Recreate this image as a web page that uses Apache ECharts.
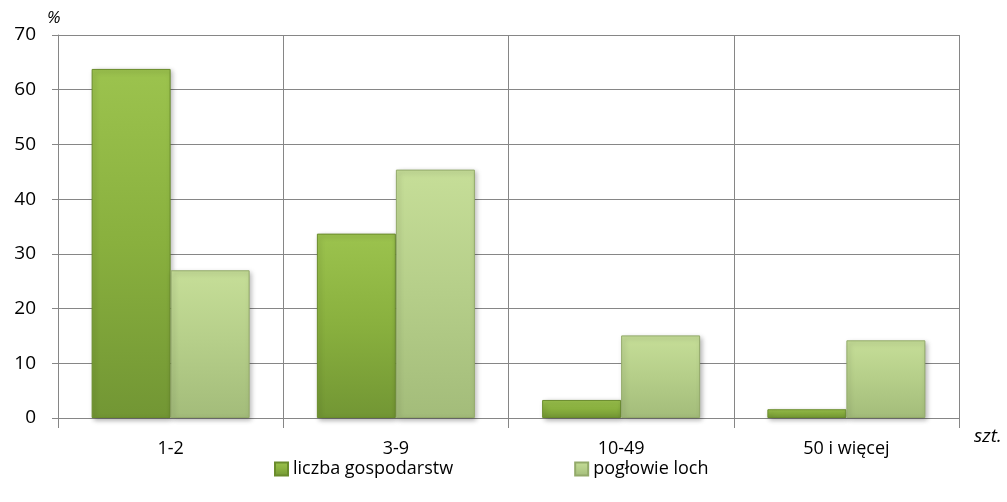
<!DOCTYPE html>
<html><head><meta charset="utf-8">
<script src="https://cdn.jsdelivr.net/npm/echarts@6/dist/echarts.min.js"></script>
<style>html,body{margin:0;padding:0;background:#fff}#c{width:1007px;height:502px}</style>
</head><body><div id="c"></div>
<script>
const categories = ['1-2', '3-9', '10-49', '50 i więcej'];
const farms = [63.8, 33.7, 3.3, 1.6];
const sows = [27.0, 45.4, 15.1, 14.2];
const yTicks = [0, 10, 20, 30, 40, 50, 60, 70];
const seriesNames = ['liczba gospodarstw', 'pogłowie loch'];

const font = '"Open Sans", sans-serif';
const chart = echarts.init(document.getElementById('c'));
function grad(c1, c2, c3) {
  return new echarts.graphic.LinearGradient(0, 0, 0, 1, [
    {offset: 0, color: c1}, {offset: 0.5, color: c2}, {offset: 1, color: c3}
  ]);
}
chart.setOption({
  animation: false,
  grid: {left: 58, right: 48, top: 35, bottom: 84},
  legend: {
    top: 455, left: 269, itemGap: 121, itemWidth: 13, itemHeight: 13,
    icon: 'rect',
    textStyle: {fontFamily: font, fontSize: 18, color: '#000'},
    data: seriesNames
  },
  graphic: [
    {type: 'text', left: 47, top: 10, style: {text: '%', font: 'italic 17px ' + font, fill: '#000'}},
    {type: 'text', left: 974, top: 427, style: {text: 'szt.', font: 'italic 19px ' + font, fill: '#000'}}
  ],
  xAxis: {
    type: 'category', data: categories,
    axisLine: {lineStyle: {color: '#868686'}},
    axisTick: {show: true, length: 10, lineStyle: {color: '#868686'}},
    axisLabel: {fontFamily: font, fontSize: 18, color: '#000', margin: 22},
    splitLine: {show: true, lineStyle: {color: '#868686'}}
  },
  yAxis: {
    type: 'value', min: yTicks[0], max: yTicks[yTicks.length - 1], interval: 10,
    axisLine: {show: true, lineStyle: {color: '#868686'}},
    axisTick: {show: true, length: 6, lineStyle: {color: '#868686'}},
    axisLabel: {fontFamily: font, fontSize: 19, color: '#000', margin: 22},
    splitLine: {lineStyle: {color: '#868686'}}
  },
  series: [
    {
      name: seriesNames[0], type: 'bar', data: farms, barWidth: 79, barGap: '0%',
      itemStyle: {
        color: grad('#9cc34e', '#89b03e', '#729634'),
        borderColor: '#6a8c2c', borderWidth: 1,
        shadowColor: 'rgba(0,0,0,0.3)', shadowBlur: 5, shadowOffsetX: 2, shadowOffsetY: 2
      }
    },
    {
      name: seriesNames[1], type: 'bar', data: sows, barWidth: 79,
      itemStyle: {
        color: grad('#c6de98', '#b5ce89', '#a3bc7a'),
        borderColor: '#93aa6a', borderWidth: 1,
        shadowColor: 'rgba(0,0,0,0.3)', shadowBlur: 5, shadowOffsetX: 2, shadowOffsetY: 2
      }
    }
  ]
});
</script></body></html>
